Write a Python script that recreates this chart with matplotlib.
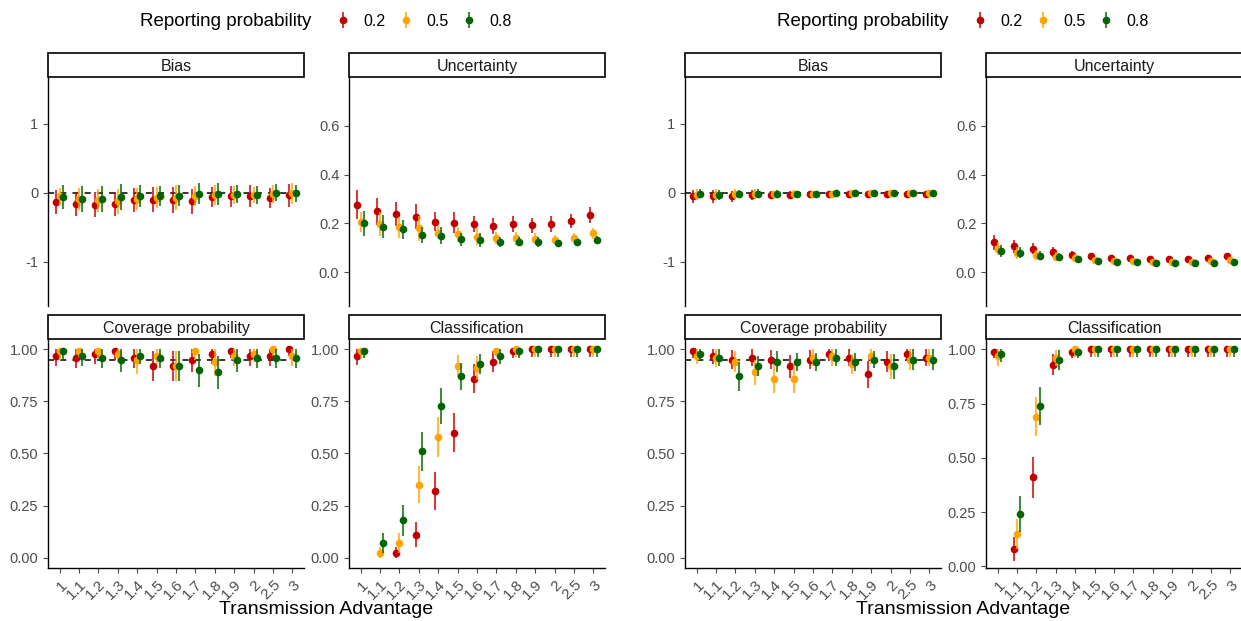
import numpy as np
import matplotlib
matplotlib.use('Agg')
import matplotlib.pyplot as plt
from matplotlib.patches import Rectangle
from matplotlib.colors import to_rgba

plt.rcParams['font.family'] = ['Liberation Sans', 'DejaVu Sans']

categories = ['1', '1.1', '1.2', '1.3', '1.4', '1.5', '1.6', '1.7', '1.8', '1.9', '2', '2.5', '3']
groups = ['0.2', '0.5', '0.8']
colors = ['#C00000', '#FFA500', '#006400']
metrics = ['Bias', 'Uncertainty', 'Coverage probability', 'Classification']

# ---------- left panel: estimate and half-width of interval, per reporting probability ----------
L_bias = [
    [-0.13, -0.16, -0.17, -0.16, -0.10, -0.10, -0.10, -0.12, -0.06, -0.05, -0.045, -0.07, -0.035],
    [-0.05, -0.09, -0.11, -0.12, -0.09, -0.07, -0.07, -0.045, -0.03, -0.03, -0.03, -0.015, -0.005],
    [-0.06, -0.09, -0.09, -0.06, -0.045, -0.05, -0.04, -0.01, -0.02, -0.02, -0.03, 0.005, -0.005],
]
L_bias_err = [
    [0.17, 0.176, 0.18, 0.174, 0.174, 0.18, 0.19, 0.18, 0.15, 0.15, 0.155, 0.145, 0.165],
    [0.125, 0.16, 0.17, 0.18, 0.165, 0.15, 0.18, 0.145, 0.15, 0.135, 0.12, 0.125, 0.15],
    [0.175, 0.19, 0.19, 0.19, 0.16, 0.145, 0.15, 0.15, 0.16, 0.13, 0.13, 0.12, 0.12],
]
L_unc = [
    [0.277, 0.25, 0.238, 0.228, 0.208, 0.204, 0.198, 0.19, 0.198, 0.193, 0.198, 0.21, 0.236],
    [0.208, 0.197, 0.185, 0.18, 0.163, 0.156, 0.146, 0.141, 0.139, 0.137, 0.133, 0.142, 0.16],
    [0.20, 0.187, 0.176, 0.153, 0.15, 0.135, 0.133, 0.124, 0.126, 0.123, 0.119, 0.123, 0.131],
]
L_unc_err = [
    [0.06, 0.055, 0.048, 0.052, 0.038, 0.042, 0.034, 0.034, 0.034, 0.031, 0.031, 0.027, 0.033],
    [0.041, 0.048, 0.043, 0.052, 0.025, 0.03, 0.034, 0.026, 0.027, 0.022, 0.019, 0.02, 0.022],
    [0.052, 0.048, 0.04, 0.034, 0.036, 0.027, 0.03, 0.02, 0.02, 0.02, 0.015, 0.014, 0.017],
]
L_cov = [
    [0.97, 0.96, 0.98, 0.99, 0.96, 0.92, 0.92, 0.95, 0.98, 0.99, 0.97, 0.97, 1.00],
    [0.99, 0.99, 0.99, 0.98, 0.95, 0.97, 0.92, 0.99, 0.94, 0.97, 0.98, 1.00, 0.97],
    [0.99, 0.97, 0.96, 0.95, 0.97, 0.96, 0.92, 0.90, 0.89, 0.95, 0.96, 0.96, 0.96],
]
L_cov_err = [
    [0.05, 0.05, 0.05, 0.04, 0.05, 0.07, 0.07, 0.06, 0.05, 0.03, 0.05, 0.05, 0.03],
    [0.04, 0.03, 0.03, 0.04, 0.07, 0.04, 0.07, 0.04, 0.07, 0.05, 0.04, 0.03, 0.05],
    [0.04, 0.05, 0.05, 0.06, 0.04, 0.05, 0.07, 0.08, 0.08, 0.06, 0.05, 0.05, 0.05],
]
L_cls = [
    [0.97, np.nan, 0.02, 0.11, 0.32, 0.60, 0.86, 0.94, 0.99, 1.00, 1.00, 1.00, 1.00],
    [0.99, 0.02, 0.07, 0.35, 0.58, 0.92, 0.91, 0.99, 1.00, 1.00, 1.00, 1.00, 1.00],
    [0.99, 0.07, 0.18, 0.51, 0.73, 0.87, 0.93, 0.97, 0.99, 1.00, 1.00, 1.00, 1.00],
]
L_cls_err = [
    [0.045, 0.0, 0.03, 0.06, 0.09, 0.095, 0.068, 0.05, 0.03, 0.037, 0.037, 0.037, 0.037],
    [0.03, 0.03, 0.05, 0.09, 0.095, 0.054, 0.056, 0.02, 0.037, 0.037, 0.037, 0.037, 0.037],
    [0.03, 0.05, 0.075, 0.095, 0.087, 0.066, 0.05, 0.04, 0.03, 0.037, 0.037, 0.037, 0.037],
]

# ---------- right panel ----------
R_bias = [
    [-0.05, -0.05, -0.05, -0.03, -0.03, -0.03, -0.02, -0.02, -0.01, -0.02, -0.01, -0.01, -0.01],
    [-0.03, -0.03, -0.02, -0.02, -0.02, -0.01, -0.01, -0.01, -0.005, -0.005, -0.005, -0.005, 0.0],
    [-0.01, -0.03, -0.02, -0.01, -0.01, -0.01, -0.01, -0.005, 0.0, 0.005, -0.005, 0.005, 0.0],
]
R_bias_err = [
    [0.09, 0.09, 0.08, 0.07, 0.06, 0.06, 0.05, 0.04, 0.04, 0.04, 0.03, 0.03, 0.03],
    [0.08, 0.08, 0.07, 0.07, 0.05, 0.05, 0.04, 0.035, 0.03, 0.03, 0.03, 0.025, 0.025],
    [0.07, 0.07, 0.06, 0.06, 0.045, 0.04, 0.035, 0.03, 0.025, 0.02, 0.02, 0.02, 0.015],
]
R_unc = [
    [0.123, 0.107, 0.096, 0.082, 0.071, 0.067, 0.059, 0.057, 0.055, 0.055, 0.055, 0.057, 0.067],
    [0.097, 0.08, 0.071, 0.064, 0.06, 0.05, 0.048, 0.048, 0.042, 0.043, 0.043, 0.046, 0.05],
    [0.087, 0.08, 0.068, 0.063, 0.055, 0.046, 0.044, 0.044, 0.038, 0.038, 0.038, 0.038, 0.041],
]
R_unc_err = [
    [0.031, 0.027, 0.023, 0.02, 0.017, 0.013, 0.01, 0.01, 0.008, 0.008, 0.007, 0.008, 0.008],
    [0.028, 0.024, 0.02, 0.018, 0.014, 0.011, 0.009, 0.008, 0.007, 0.007, 0.006, 0.006, 0.006],
    [0.025, 0.022, 0.018, 0.015, 0.012, 0.009, 0.008, 0.007, 0.006, 0.006, 0.005, 0.005, 0.005],
]
R_cov = [
    [0.99, 0.97, 0.95, 0.96, 0.95, 0.92, 0.95, 0.98, 0.96, 0.88, 0.94, 0.98, 0.96],
    [0.97, 0.96, 0.94, 0.89, 0.86, 0.86, 0.96, 0.97, 0.93, 0.97, 0.92, 0.95, 0.96],
    [0.98, 0.96, 0.87, 0.92, 0.94, 0.94, 0.94, 0.96, 0.94, 0.95, 0.92, 0.95, 0.95],
]
R_cov_err = [
    [0.03, 0.04, 0.045, 0.04, 0.045, 0.055, 0.045, 0.035, 0.04, 0.065, 0.05, 0.035, 0.04],
    [0.04, 0.045, 0.05, 0.06, 0.07, 0.07, 0.04, 0.05, 0.05, 0.04, 0.06, 0.05, 0.04],
    [0.035, 0.04, 0.07, 0.05, 0.05, 0.045, 0.045, 0.04, 0.045, 0.04, 0.06, 0.05, 0.05],
]
R_cls = [
    [0.99, 0.08, 0.41, 0.93, 0.99, 1.00, 1.00, 1.00, 1.00, 1.00, 1.00, 1.00, 1.00],
    [0.97, 0.15, 0.69, 0.96, 1.00, 1.00, 1.00, 1.00, 1.00, 1.00, 1.00, 1.00, 1.00],
    [0.98, 0.24, 0.74, 0.95, 0.99, 1.00, 1.00, 1.00, 1.00, 1.00, 1.00, 1.00, 1.00],
]
R_cls_err = [
    [0.03, 0.055, 0.096, 0.05, 0.03, 0.037, 0.037, 0.037, 0.037, 0.037, 0.037, 0.037, 0.037],
    [0.045, 0.07, 0.089, 0.035, 0.037, 0.037, 0.037, 0.037, 0.037, 0.037, 0.037, 0.037, 0.037],
    [0.04, 0.083, 0.088, 0.046, 0.03, 0.037, 0.037, 0.037, 0.037, 0.037, 0.037, 0.037, 0.037],
]

panels = [
    [(L_bias, L_bias_err), (L_unc, L_unc_err), (L_cov, L_cov_err), (L_cls, L_cls_err)],
    [(R_bias, R_bias_err), (R_unc, R_unc_err), (R_cov, R_cov_err), (R_cls, R_cls_err)],
]

W, H = 1241, 621
fig = plt.figure(figsize=(W / 100, H / 100), dpi=100)

def fx(px):
    return px / W

def fy(py):
    return 1 - py / H

col_left = [[48, 349], [685, 986]]
col_w = 256
rows = [(77, 306), (339, 568)]
strip_h = 24
ylims = {'Bias': (-1.64, 1.68), 'Uncertainty': (-0.138, 0.80),
         'Coverage probability': (-0.05, 1.05), 'Classification': (-0.05, 1.05)}
# right-hand classification scale is trained on its own data range
ylims_right_cls = (-0.008, 1.048)
yticks = {'Bias': [-1, 0, 1], 'Uncertainty': [0.0, 0.2, 0.4, 0.6],
          'Coverage probability': [0, 0.25, 0.5, 0.75, 1.0], 'Classification': [0, 0.25, 0.5, 0.75, 1.0]}
yfmt = {'Bias': '{:.0f}', 'Uncertainty': '{:.1f}',
        'Coverage probability': '{:.2f}', 'Classification': '{:.2f}'}
refline = {'Bias': 0.0, 'Coverage probability': 0.95}
grey = '#4D4D4D'
xpos = np.arange(len(categories))
offsets = [-1 / 6, 0, 1 / 6]

for p in range(2):
    for m, metric in enumerate(metrics):
        r, c = divmod(m, 2)
        x0 = col_left[p][c]
        top, bot = rows[r]
        ax = fig.add_axes([fx(x0), fy(bot), fx(col_w), fy(top) - fy(bot)])
        vals, errs = panels[p][m]
        if metric in refline:
            ax.axhline(refline[metric], color='black', lw=1.1, ls=(0, (4, 4)), zorder=1)
        for g in range(3):
            v = np.array(vals[g], dtype=float)
            e = np.array(errs[g], dtype=float)
            lo, hi = v - e, v + e
            if metric in ('Coverage probability', 'Classification'):
                lo, hi = np.clip(lo, 0, 1), np.clip(hi, 0, 1)
            ax.errorbar(xpos + offsets[g], v, yerr=[v - lo, hi - v], fmt='o', color=colors[g],
                        ecolor=to_rgba(colors[g], 0.75), elinewidth=1.5, markersize=4.5,
                        capsize=0, zorder=2 + g, label=groups[g])
        ax.set_xlim(-0.6, len(categories) - 0.4)
        if p == 1 and metric == 'Classification':
            ax.set_ylim(*ylims_right_cls)
        else:
            ax.set_ylim(*ylims[metric])
        ax.set_yticks(yticks[metric])
        ax.set_yticklabels([yfmt[metric].format(t) for t in yticks[metric]])
        for s in ['top', 'right']:
            ax.spines[s].set_visible(False)
        ax.spines['left'].set_linewidth(1.0)
        ax.tick_params(axis='y', colors=grey, labelcolor=grey, labelsize=10.5, length=3.5, width=0.8)
        if r == 0:
            ax.spines['bottom'].set_visible(False)
            ax.set_xticks([])
        else:
            ax.spines['bottom'].set_linewidth(1.0)
            ax.set_xticks(xpos)
            ax.set_xticklabels(categories, rotation=45, ha='right', va='top', rotation_mode='anchor')
            ax.tick_params(axis='x', colors=grey, labelcolor=grey, labelsize=11, length=3.5, width=0.8)
        # facet strip
        sax = fig.add_axes([fx(x0), fy(top), fx(col_w), fy(top - strip_h) - fy(top)])
        sax.set_xlim(0, 1)
        sax.set_ylim(0, 1)
        sax.axis('off')
        sax.add_patch(Rectangle((0, 0), 1, 1, fill=False, ec='black', lw=1.2,
                                transform=sax.transAxes, clip_on=False))
        sax.text(0.5, 0.45, metric, ha='center', va='center', fontsize=11.5, color='#1A1A1A')
        if p == 0 and m == 0:
            handles, labels = ax.get_legend_handles_labels()

    # shared x label and legend for each half
    mid = (col_left[p][0] + col_left[p][1] + col_w) / 2
    fig.text(fx(mid), fy(609), 'Transmission Advantage', ha='center', va='center', fontsize=14)
    title_x = [140, 777][p]
    fig.text(fx(title_x), fy(21), 'Reporting probability', ha='left', va='center', fontsize=13.5)
    fig.legend(handles, labels, ncol=3, frameon=False, loc='center left',
               bbox_to_anchor=(fx(title_x + 182), fy(21)), fontsize=11.5,
               handlelength=0.8, handletextpad=0.9, columnspacing=0.85)

fig.savefig('out.png', dpi=100)
